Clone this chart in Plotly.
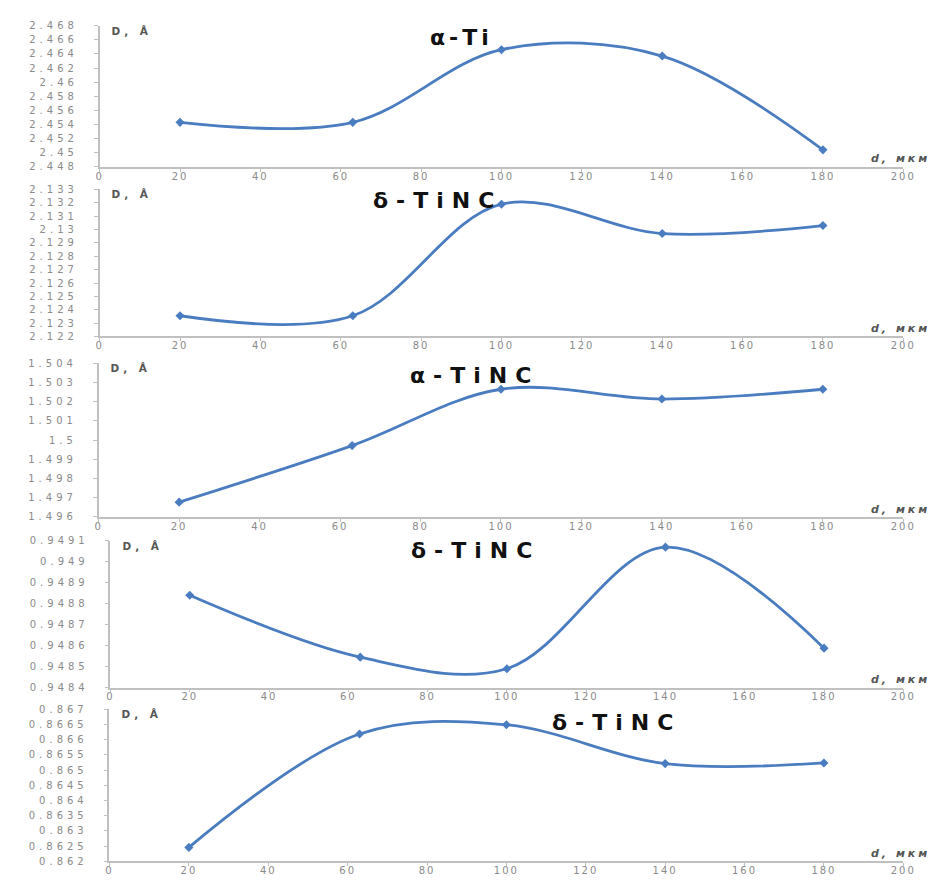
import json
import plotly.graph_objects as go

# Particle size, мкм
sizes = [20, 63, 100, 140, 180]

# Interplanar spacing D (Å) for each reflection
d_alpha_ti = [2.4543, 2.4543, 2.4646, 2.4637, 2.4504]
d_delta_tinc_1 = [2.12355, 2.12355, 2.1319, 2.1297, 2.1303]
d_alpha_tinc = [1.49677, 1.49971, 1.50264, 1.50213, 1.50264]
d_delta_tinc_2 = [0.94884, 0.948545, 0.94849, 0.949069, 0.948588]
d_delta_tinc_3 = [0.862455, 0.866188, 0.86649, 0.865214, 0.865234]

series = [d_alpha_ti, d_delta_tinc_1, d_alpha_tinc, d_delta_tinc_2, d_delta_tinc_3]
titles = ["α-Ti", "δ-TiNC", "α-TiNC", "δ-TiNC", "δ-TiNC"]

# y tick values / labels for each panel
y_ticks = [
    [2.448, 2.45, 2.452, 2.454, 2.456, 2.458, 2.46, 2.462, 2.464, 2.466, 2.468],
    [2.122, 2.123, 2.124, 2.125, 2.126, 2.127, 2.128, 2.129, 2.13, 2.131, 2.132, 2.133],
    [1.496, 1.497, 1.498, 1.499, 1.5, 1.501, 1.502, 1.503, 1.504],
    [0.9484, 0.9485, 0.9486, 0.9487, 0.9488, 0.9489, 0.949, 0.9491],
    [0.862, 0.8625, 0.863, 0.8635, 0.864, 0.8645, 0.865, 0.8655, 0.866, 0.8665, 0.867],
]
y_ticktext = [
    ["2.448", "2.45", "2.452", "2.454", "2.456", "2.458", "2.46", "2.462", "2.464", "2.466", "2.468"],
    ["2.122", "2.123", "2.124", "2.125", "2.126", "2.127", "2.128", "2.129", "2.13", "2.131", "2.132", "2.133"],
    ["1.496", "1.497", "1.498", "1.499", "1.5", "1.501", "1.502", "1.503", "1.504"],
    ["0.9484", "0.9485", "0.9486", "0.9487", "0.9488", "0.9489", "0.949", "0.9491"],
    ["0.862", "0.8625", "0.863", "0.8635", "0.864", "0.8645", "0.865", "0.8655", "0.866", "0.8665", "0.867"],
]
x_ticks = [0, 20, 40, 60, 80, 100, 120, 140, 160, 180, 200]

W, H = 935, 884
# panel boxes in pixels: (top, bottom, left), all panels end at the same right edge
boxes = [(20, 163, 98), (186, 335, 98), (362, 518, 97), (542, 691, 109), (713, 867, 108)]
right_px = 913
# title centre positions in pixels and their letter spacing
title_pos = [(461, 32), (433, 197), (470, 375), (471, 552), (614, 726)]
title_spacing = [4, 8, 8, 8, 8]

LINE = "#4a7cc0"
AXIS = "#c0c0c0"
YTICKFONT = dict(family="DejaVu Sans", size=10, color="#8a8a8a")
XTICKFONT = dict(family="DejaVu Sans", size=10, color="#8a8a8a")

# letter spacing (px) applied to texts after rendering
SP_YTICK, SP_XTICK, SP_DLABEL, SP_UNIT = 4, 2, 4, 3

fig = go.Figure()
annotations = []
ann_spacing = []
for i, (vals, (top, bot, left)) in enumerate(zip(series, boxes)):
    n = "" if i == 0 else str(i + 1)
    fig.add_trace(go.Scatter(
        x=sizes, y=vals, xaxis="x" + n, yaxis="y" + n,
        mode="lines+markers",
        line=dict(color=LINE, width=2.8, shape="spline", smoothing=1.0),
        marker=dict(symbol="diamond", size=7, color=LINE),
        showlegend=False, hoverinfo="x+y",
    ))
    xdom = [left / W, right_px / W]
    ydom = [1 - bot / H, 1 - top / H]
    fig.layout["xaxis" + n] = dict(
        domain=xdom, range=[0, 200], anchor="y" + n,
        tickvals=x_ticks, ticks="outside", ticklen=3, tickcolor=AXIS,
        ticklabelstandoff=-4,
        showline=True, linecolor=AXIS, linewidth=1.5, showgrid=False, zeroline=False,
        tickfont=XTICKFONT,
    )
    fig.layout["yaxis" + n] = dict(
        domain=ydom, range=[y_ticks[i][0], y_ticks[i][-1]], anchor="x" + n,
        tickvals=y_ticks[i], ticktext=y_ticktext[i],
        ticks="outside", ticklen=4, tickcolor=AXIS, ticklabelstandoff=14,
        showline=True, linecolor=AXIS, linewidth=1.5, showgrid=False, zeroline=False,
        tickfont=YTICKFONT,
    )
    tx, ty = title_pos[i]
    annotations.append(dict(
        text="<b>" + titles[i] + "</b>", x=(tx + title_spacing[i]) / W, y=1 - ty / H,
        xref="paper", yref="paper",
        showarrow=False, xanchor="center", yanchor="middle",
        font=dict(family="DejaVu Sans", size=22, color="#111111"),
    ))
    ann_spacing.append(title_spacing[i])
    annotations.append(dict(
        text="<b>D, Å</b>", x=(left + 18) / W, y=1 - (top + 5) / H, xref="paper", yref="paper",
        showarrow=False, xanchor="left", yanchor="middle",
        font=dict(family="DejaVu Sans", size=10.5, color="#555555"),
    ))
    ann_spacing.append(SP_DLABEL)
    annotations.append(dict(
        text="<b><i>d, мкм</i></b>", x=933 / W, y=1 - (bot - 8) / H,
        xref="paper", yref="paper",
        showarrow=False, xanchor="right", yanchor="middle",
        font=dict(family="DejaVu Sans", size=11, color="#555555"),
    ))
    ann_spacing.append(SP_UNIT)

fig.update_layout(
    width=W, height=H, margin=dict(l=0, r=0, t=0, b=0),
    paper_bgcolor="white", plot_bgcolor="white",
    annotations=annotations,
)

# widen the lettering of tick labels and annotations, keeping each text's anchor point fixed
post = """
var gd = document.getElementById('{plot_id}');
var annSp = %s;
function spread(t, px) {
  var b0 = t.getBBox();
  var anchor = t.getAttribute('text-anchor') || 'start';
  t.style.letterSpacing = px + 'px';
  var b1 = t.getBBox();
  var shift;
  if (anchor === 'end') { shift = (b0.x + b0.width) - (b1.x + b1.width); }
  else if (anchor === 'middle') { shift = (b0.x + b0.width / 2) - (b1.x + b1.width / 2); }
  else { shift = b0.x - b1.x; }
  var x = parseFloat(t.getAttribute('x') || '0');
  t.setAttribute('x', x + shift);
}
gd.querySelectorAll('.yaxislayer-above text').forEach(function(t){ spread(t, %d); });
gd.querySelectorAll('.xaxislayer-above text').forEach(function(t){ spread(t, %d); });
gd.querySelectorAll('g.annotation').forEach(function(g, k){
  var t = g.querySelector('text');
  if (t && k < annSp.length) { spread(t, annSp[k]); }
});
""" % (json.dumps(ann_spacing), SP_YTICK, SP_XTICK)

fig.write_html("out.html", post_script=post)
